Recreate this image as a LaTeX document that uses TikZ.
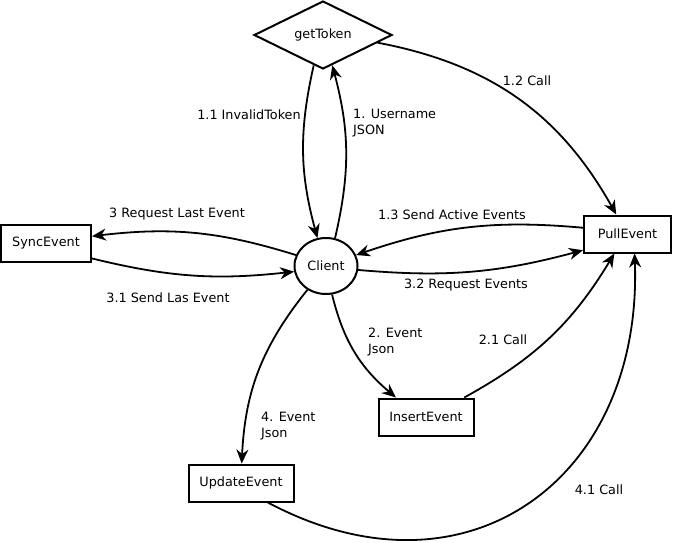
\documentclass[tikz,border=0pt]{standalone}
\usepackage{fontspec}
\setmainfont{DejaVu Sans}
\usetikzlibrary{shapes.geometric,arrows.meta}
\begin{document}
\begin{tikzpicture}[x=1pt,y=1pt,
  font=\fontsize{12.8}{16}\selectfont,
  proc/.style={draw, rectangle, line width=2pt, inner sep=0pt, minimum height=37pt},
  flow/.style={line width=1.8pt, -{Stealth[length=14pt,width=12pt,inset=4.5pt]}},
  lab/.style={inner sep=0pt, align=left}]
\useasboundingbox (0,0) rectangle (673,-542);
\node[draw, diamond, aspect=2, line width=2pt, minimum width=138pt, minimum height=68pt, inner sep=0pt] (gettoken) at (323,-35){getToken};
\node[draw, ellipse, line width=2pt, minimum width=63pt, minimum height=56pt, inner sep=0pt] (client) at (326,-266){Client};
\node[proc, minimum width=90pt] (sync) at (46,-243.5){SyncEvent};
\node[proc, minimum width=87pt] (pull) at (627.5,-234){PullEvent};
\node[proc, minimum width=95pt] (insert) at (426,-417){InsertEvent};
\node[proc, minimum width=105pt] (update) at (241,-483){UpdateEvent};
\draw[flow] (client.72) to[bend right=14] (gettoken.-73);
\draw[flow] (gettoken.-107) to[bend right=14] (client.107);
\draw[flow] (gettoken.-8) to[bend left=25] (pull.120);
\draw[flow] (pull.172) to[bend right=12] (client.20);
\draw[flow] (client.-7) to[bend right=10] (pull.-160);
\draw[flow] (client.160) to[bend right=12] (sync.9);
\draw[flow] (sync.-18) to[bend right=10] (client.190);
\draw[flow] (client.-78) to[bend right=18] (insert.147);
\draw[flow] (insert.27) to[bend right=15] (pull.-124);
\draw[flow] (client.-128) to[bend right=18] (update.88);
\draw[flow] (update.-36) to[out=-28,in=-88,looseness=1.3] (pull.-70);
\node[lab] (l11) at (249,-115){1.1 InvalidToken};
\node[lab, anchor=west] (l1) at (353,-123){1. Username\\JSON};
\node[lab] (l12) at (527,-81){1.2 Call};
\node[lab] (l13) at (452,-215){1.3 Send Active Events};
\node[lab] (l32) at (466,-285){3.2 Request Events};
\node[lab] (l3) at (177,-214){3 Request Last Event};
\node[lab] (l31) at (168,-298){3.1 Send Las Event};
\node[lab, anchor=west] (l2) at (368,-342){2. Event\\Json};
\node[lab] (l21) at (503,-340){2.1 Call};
\node[lab, anchor=west] (l4) at (261,-426){4. Event\\Json};
\node[lab] (l41) at (599,-490){4.1 Call};
\end{tikzpicture}
\end{document}
